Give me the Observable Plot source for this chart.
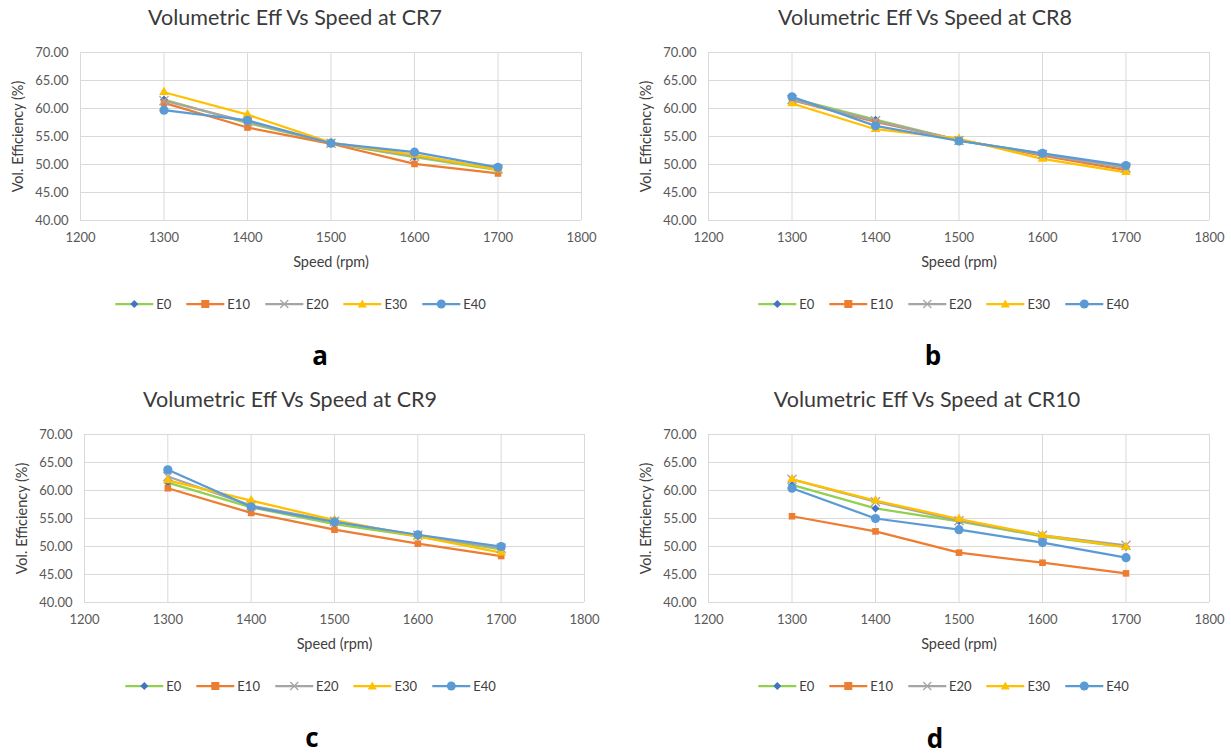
<!DOCTYPE html>
<html><head><meta charset="utf-8">
<script src="https://cdn.jsdelivr.net/npm/d3@7"></script>
<script src="https://cdn.jsdelivr.net/npm/@observablehq/plot@0.6"></script>
<style>
body{margin:0;background:#fff;font-family:Lato,"Open Sans",sans-serif;}
#root{position:relative;width:1231px;height:755px;overflow:hidden;background:#fff}
.abs{position:absolute}
.title{font-size:21.5px;color:#3a3a3a;transform:translate(-50%,-50%);white-space:nowrap;line-height:1}
.legend{transform:translate(-50%,-50%);display:flex;gap:14px;font-size:13px;color:#404040;white-space:nowrap;align-items:center}
.legend span{display:flex;align-items:center;gap:2px}
.letter{font-weight:bold;font-size:26px;transform:translate(-50%,-50%);color:#000;font-family:"Open Sans",sans-serif;line-height:1}
</style></head><body><div id="root"></div><script>
// Data
const speeds = [1300, 1400, 1500, 1600, 1700];
const seriesNames = ["E0", "E10", "E20", "E30", "E40"];
const xTicks = [1200, 1300, 1400, 1500, 1600, 1700, 1800];
const yTicks = [40, 45, 50, 55, 60, 65, 70];

const cr7E0  = [61.6, 57.4, 53.8, 51.3, 49.0];
const cr7E10 = [61.0, 56.6, 53.7, 50.1, 48.4];
const cr7E20 = [61.4, 57.6, 53.8, 51.5, 49.2];
const cr7E30 = [62.9, 58.9, 53.9, 51.7, 49.1];
const cr7E40 = [59.7, 57.9, 53.8, 52.2, 49.5];

const cr8E0  = [61.8, 58.0, 54.3, 51.9, 49.6];
const cr8E10 = [61.5, 57.6, 54.4, 51.6, 49.0];
const cr8E20 = [61.6, 57.8, 54.3, 51.8, 49.4];
const cr8E30 = [60.9, 56.3, 54.6, 51.0, 48.6];
const cr8E40 = [62.1, 56.9, 54.2, 52.0, 49.8];

const cr9E0  = [61.4, 57.0, 54.0, 51.8, 49.5];
const cr9E10 = [60.4, 56.0, 53.0, 50.5, 48.3];
const cr9E20 = [62.5, 57.3, 54.5, 52.0, 49.7];
const cr9E30 = [61.8, 58.2, 54.7, 51.8, 48.9];
const cr9E40 = [63.7, 57.1, 54.4, 52.1, 50.0];

const cr10E0  = [61.0, 56.8, 54.5, 51.8, 49.9];
const cr10E10 = [55.4, 52.7, 48.9, 47.1, 45.2];
const cr10E20 = [62.0, 58.0, 54.6, 52.0, 50.2];
const cr10E30 = [62.0, 58.2, 54.9, 52.0, 49.9];
const cr10E40 = [60.4, 55.0, 53.0, 50.7, 48.0];

const titles = ["Volumetric Eff Vs Speed at CR7", "Volumetric Eff Vs Speed at CR8",
                "Volumetric Eff Vs Speed at CR9", "Volumetric Eff Vs Speed at CR10"];
const letters = ["a", "b", "c", "d"];
const xLabel = "Speed (rpm)";
const yLabel = "Vol. Efficiency (%)";

// Styles
const lineColors = ["#92D050", "#ED7D31", "#A5A5A5", "#FFC000", "#5B9BD5"];
const markerColors = ["#4472C4", "#ED7D31", "#A5A5A5", "#FFC000", "#5B9BD5"];
const symbols = ["diamond2", "square2", "times", "triangle2", "circle"];
const symR = [3.6, 4.2, 4.2, 4.6, 4.6];

const panels = [
  {vals:[cr7E0,cr7E10,cr7E20,cr7E30,cr7E40], left:0, top:40, w:610, ml:80, mr:29, tx:295, ty:18, lx:300, ly:304, ax:320, ay:355},
  {vals:[cr8E0,cr8E10,cr8E20,cr8E30,cr8E40], left:615, top:40, w:616, ml:93, mr:22, tx:925, ty:18, lx:943, ly:304, ax:933, ay:355},
  {vals:[cr9E0,cr9E10,cr9E20,cr9E30,cr9E40], left:0, top:422, w:610, ml:84, mr:26, tx:290, ty:400, lx:310, ly:686, ax:312, ay:737},
  {vals:[cr10E0,cr10E10,cr10E20,cr10E30,cr10E40], left:615, top:422, w:616, ml:93, mr:22, tx:927, ty:400, lx:943, ly:686, ax:935, ay:738}
];

const root = document.getElementById("root");

function legendHTML() {
  const shapes = [
    c => `<path d="M20,2 L24,6 L20,10 L16,6Z" fill="${c}"/>`,
    c => `<rect x="16" y="2" width="8" height="8" fill="${c}"/>`,
    c => `<path d="M16,2 L24,10 M24,2 L16,10" stroke="${c}" stroke-width="1.3"/>`,
    c => `<path d="M20,1.5 L24.5,9.5 L15.5,9.5Z" fill="${c}"/>`,
    c => `<circle cx="20" cy="6" r="4.5" fill="${c}"/>`
  ];
  return seriesNames.map((s, i) =>
    `<span><svg width="40" height="12"><line x1="1" x2="39" y1="6" y2="6" stroke="${lineColors[i]}" stroke-width="2.25"/>${shapes[i](markerColors[i])}</svg>${s}</span>`
  ).join("");
}

panels.forEach((p, k) => {
  const rows = seriesNames.flatMap((s, i) => speeds.map((sp, j) => ({speed: sp, value: p.vals[i][j], series: s})));
  const marks = [
    Plot.gridX(xTicks, {stroke: "#d9d9d9", strokeOpacity: 1, strokeWidth: 1}),
    Plot.gridY(yTicks, {stroke: "#d9d9d9", strokeOpacity: 1, strokeWidth: 1}),
    Plot.axisX(xTicks, {tickSize: 0, tickPadding: 12, tickFormat: d3.format("d"), label: null}),
    Plot.axisY(yTicks, {tickSize: 0, tickPadding: 12, tickFormat: d3.format(".2f"), label: null}),
    Plot.text([xLabel], {text: d => d, frameAnchor: "bottom", textAnchor: "middle", dy: 46, fontSize: 14.5, fill: "#404040"}),
    Plot.text([yLabel], {text: d => d, frameAnchor: "left", textAnchor: "middle", dx: -62, rotate: -90, fontSize: 14.5, fill: "#404040"})
  ];
  seriesNames.forEach((s, i) => {
    const d = rows.filter(r => r.series === s);
    marks.push(Plot.line(d, {x: "speed", y: "value", stroke: lineColors[i], strokeWidth: 2.25}));
  });
  seriesNames.forEach((s, i) => {
    const d = rows.filter(r => r.series === s);
    if (symbols[i] === "times") {
      marks.push(Plot.dot(d, {x: "speed", y: "value", symbol: "times", stroke: markerColors[i], strokeWidth: 1.4, r: symR[i]}));
    } else {
      marks.push(Plot.dot(d, {x: "speed", y: "value", symbol: symbols[i], fill: markerColors[i], stroke: "none", r: symR[i]}));
    }
  });
  const svg = Plot.plot({
    width: p.w, height: 230,
    marginLeft: p.ml, marginRight: p.mr, marginTop: 12, marginBottom: 50,
    x: {domain: [1200, 1800]},
    y: {domain: [40, 70]},
    style: {fontSize: "13px", fontFamily: "Lato, 'Open Sans', sans-serif", color: "#595959", background: "transparent", overflow: "visible"},
    marks
  });
  svg.style.position = "absolute";
  svg.style.left = p.left + "px";
  svg.style.top = p.top + "px";
  root.appendChild(svg);

  const t = document.createElement("div");
  t.className = "abs title"; t.style.left = p.tx + "px"; t.style.top = p.ty + "px";
  t.textContent = titles[k];
  root.appendChild(t);

  const lg = document.createElement("div");
  lg.className = "abs legend"; lg.style.left = p.lx + "px"; lg.style.top = p.ly + "px";
  lg.innerHTML = legendHTML();
  root.appendChild(lg);

  const l = document.createElement("div");
  l.className = "abs letter"; l.style.left = p.ax + "px"; l.style.top = p.ay + "px";
  l.textContent = letters[k];
  root.appendChild(l);
});
</script></body></html>
